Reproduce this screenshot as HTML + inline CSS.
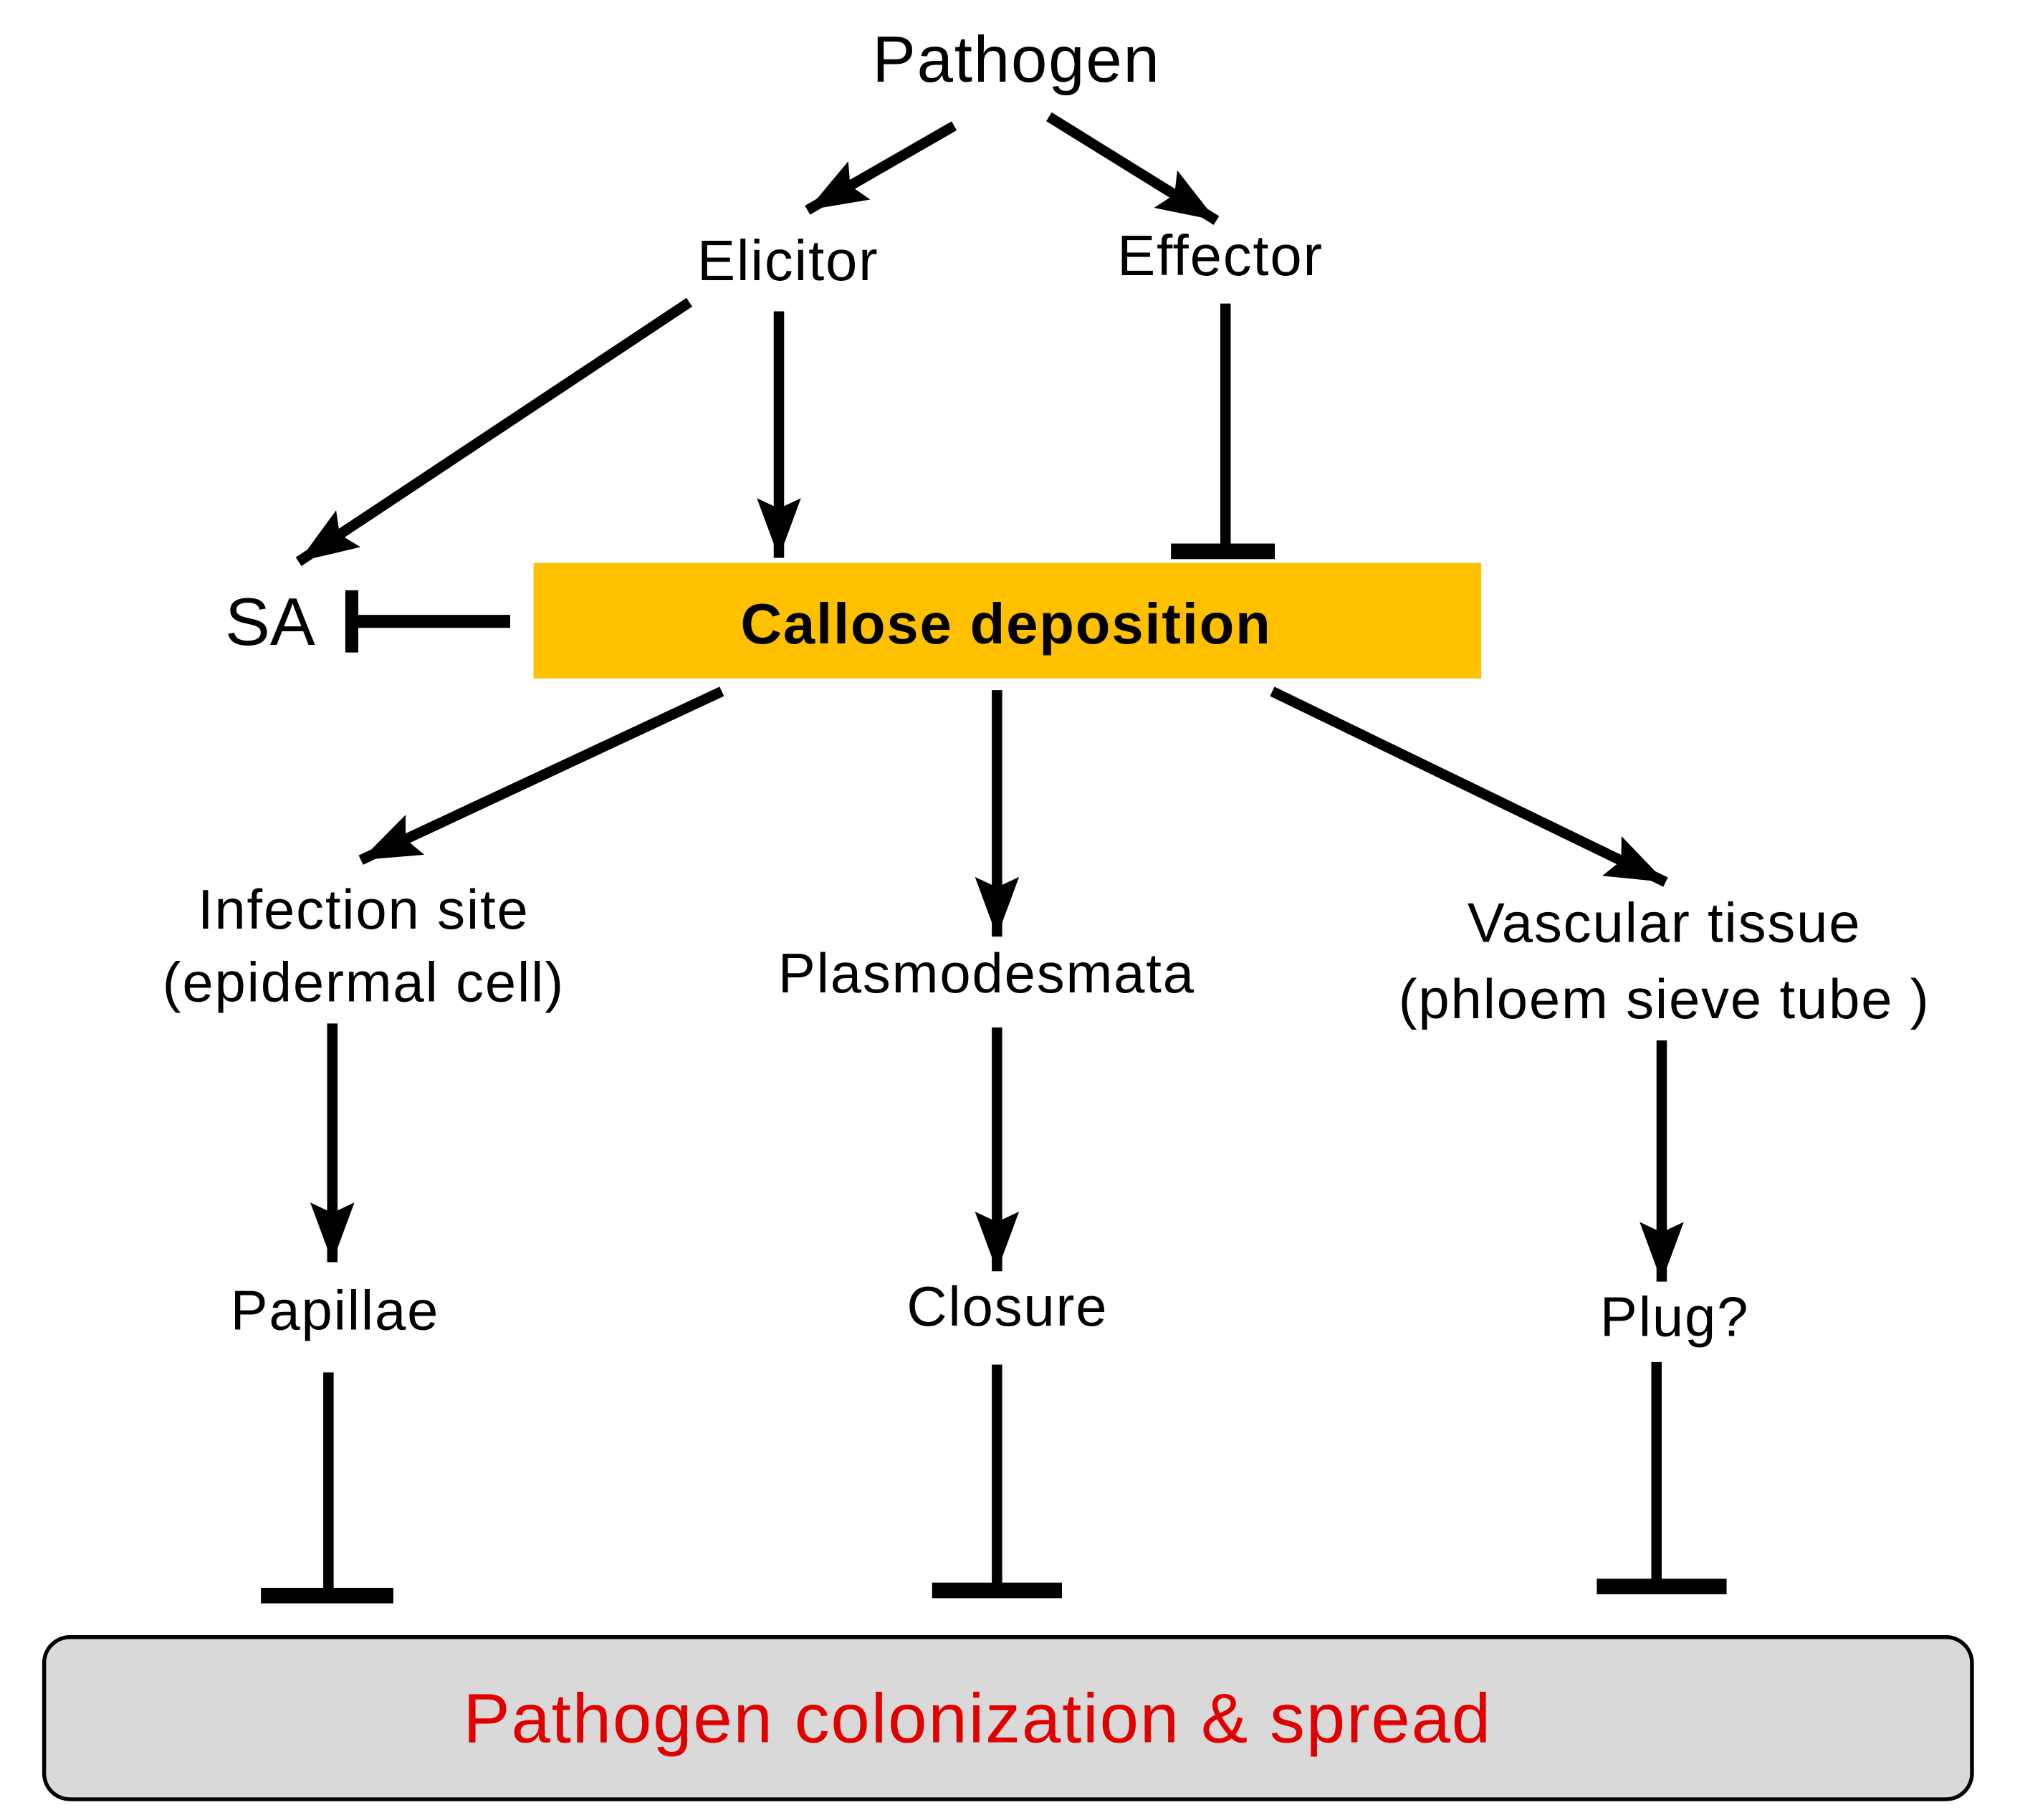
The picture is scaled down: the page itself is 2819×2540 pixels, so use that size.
<!DOCTYPE html>
<html><head><meta charset="utf-8"><style>html,body{margin:0;padding:0;background:#fff}svg{display:block}</style></head>
<body>
<svg width="2819" height="2540" viewBox="0 0 1556 1403" preserveAspectRatio="none" xmlns="http://www.w3.org/2000/svg">
<defs>
<marker id="a" markerUnits="userSpaceOnUse" markerWidth="50" markerHeight="40" refX="46" refY="17" orient="auto">
<polygon points="0,0 46,17 0,34 8,17" fill="#000"/>
</marker>
</defs>
<g font-family="Liberation Sans, sans-serif" text-anchor="middle" fill="#000">
<text x="783" y="63" font-size="50" letter-spacing="1">Pathogen</text>
<text x="607" y="216" font-size="44" letter-spacing="1">Elicitor</text>
<text x="940" y="212" font-size="44" letter-spacing="1">Effector</text>
<text x="208" y="497" font-size="52">SA</text>
<text x="280" y="716" font-size="43" letter-spacing="1">Infection site</text>
<text x="280" y="772" font-size="43" letter-spacing="1">(epidermal cell)</text>
<text x="760" y="765" font-size="43" letter-spacing="1">Plasmodesmata</text>
<text x="1282" y="726" font-size="43" letter-spacing="1">Vascular tissue</text>
<text x="1282" y="785" font-size="43" letter-spacing="1">(phloem sieve tube )</text>
<text x="258" y="1025" font-size="43" letter-spacing="1">Papillae</text>
<text x="776" y="1022" font-size="43" letter-spacing="1">Closure</text>
<text x="1290" y="1030" font-size="43" letter-spacing="1">Plug?</text>
</g>
<rect x="411" y="434" width="730" height="89" fill="#FFC000"/>
<text x="775" y="496" font-family="Liberation Sans, sans-serif" font-size="44" font-weight="bold" text-anchor="middle" letter-spacing="1">Callose deposition</text>
<rect x="34" y="1262" width="1485" height="125" rx="20" fill="#D9D9D9" stroke="#000" stroke-width="3"/>
<text x="753" y="1343" font-family="Liberation Sans, sans-serif" font-size="54" fill="#E00000" text-anchor="middle" letter-spacing="1">Pathogen colonization &amp; spread</text>
<g stroke="#000" stroke-width="8" fill="none">
<line x1="735" y1="97" x2="622" y2="162" marker-end="url(#a)"/>
<line x1="808" y1="90" x2="937" y2="170" marker-end="url(#a)"/>
<line x1="531" y1="233" x2="230" y2="433" marker-end="url(#a)"/>
<line x1="600" y1="240" x2="600" y2="430" marker-end="url(#a)"/>
<line x1="556" y1="533" x2="278" y2="663" marker-end="url(#a)"/>
<line x1="768" y1="532" x2="768" y2="722" marker-end="url(#a)"/>
<line x1="980" y1="533" x2="1283" y2="680" marker-end="url(#a)"/>
<line x1="256" y1="789" x2="256" y2="973" marker-end="url(#a)"/>
<line x1="768" y1="792" x2="768" y2="980" marker-end="url(#a)"/>
<line x1="1280" y1="802" x2="1280" y2="988" marker-end="url(#a)"/>
<line x1="944" y1="234" x2="944" y2="422"/>
<line x1="393" y1="479" x2="272" y2="479" stroke-width="10"/>
<line x1="253" y1="1058" x2="253" y2="1226"/>
<line x1="768" y1="1052" x2="768" y2="1222"/>
<line x1="1276" y1="1050" x2="1276" y2="1219"/>
</g>
<g fill="#000">
<rect x="902" y="419" width="80" height="12"/>
<rect x="266" y="455" width="10" height="48"/>
<rect x="201" y="1224" width="102" height="12"/>
<rect x="718" y="1220" width="100" height="12"/>
<rect x="1230" y="1217" width="100" height="12"/>
</g>
</svg>
</body></html>
